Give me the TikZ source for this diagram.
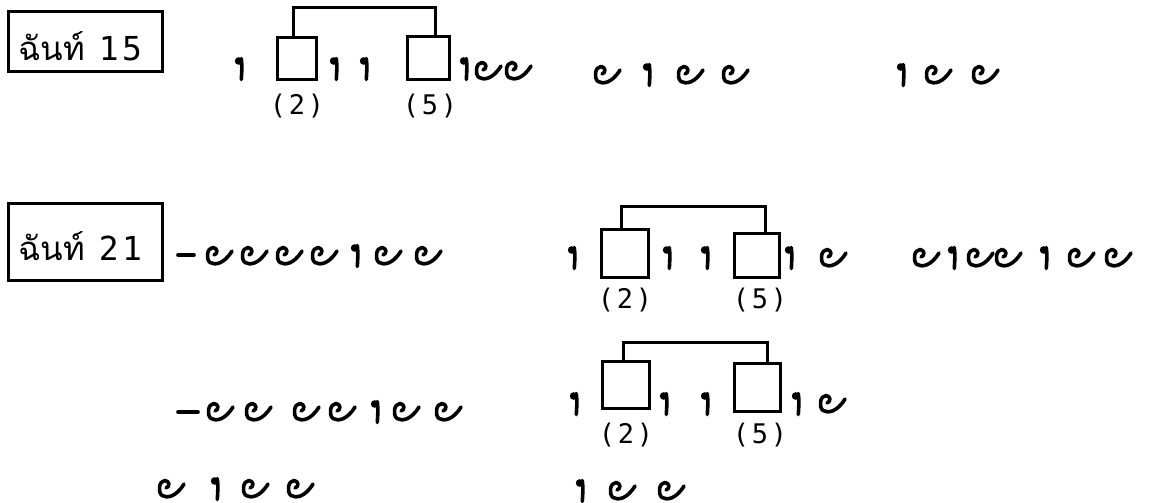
\documentclass[tikz,border=0pt]{standalone}
\usepackage{fontspec}
\newfontfamily\thaifont[Script=Thai]{Loma}
\newfontfamily\numfont[LetterSpace=10]{DejaVu Sans Mono}
\usetikzlibrary{calc}
\tikzset{
  glyph/.style={line width=3.6pt, line cap=round, line join=round},
  pics/guru/.style={code={\draw[glyph] (-5,-9) .. controls (-1,-10) and (-1,-16) .. (-6,-16.5) .. controls (-12,-16.5) and (-13.5,-5) .. (-9,-1.5) .. controls (-4,1.5) and (5,0) .. (13,-13);}},
  pics/lahu/.style={code={\fill (-1.4,-17) circle (3.8); \draw[glyph] (1.3,-19.5) .. controls (2.3,-12) and (1.7,-5) .. (1.3,1.5);}},
  sqbox/.style={draw, line width=3pt, inner sep=0pt},
  lblbox/.style={draw, line width=3pt, inner sep=0pt},
  brk/.style={line width=3pt},
  dashglyph/.style={line width=3.6pt, line cap=round},
  lbl/.style={inner sep=0pt, font=\thaifont\fontsize{33}{38}\selectfont},
  num/.style={inner sep=0pt, font=\numfont\fontsize{27}{31}\selectfont}
}
\begin{document}
\begin{tikzpicture}[x=1pt,y=-1pt]
\useasboundingbox (0,0) rectangle (1149,503);
\fill[white] (0,0) rectangle (1149,503);
% ---------- row 1 : chan 15
\node[lblbox, minimum width=154pt, minimum height=60pt] (k15box) at (85,42) {};
\node[lbl, anchor=base west] (k15) at (18,61) {ฉันท์\hspace{14pt}{\numfont 15}};
\pic at (240,78) {lahu};
\node[sqbox, minimum width=39pt, minimum height=42pt] (a2) at (296.5,59) {};
\pic at (335,78) {lahu};
\pic at (365,78) {lahu};
\node[sqbox, minimum width=42pt, minimum height=43pt] (a5) at (428,58.5) {};
\pic at (465,78) {lahu};
\pic at (488,79) {guru};
\pic at (518,79) {guru};
\pic at (607,83) {guru};
\pic at (648,84) {lahu};
\pic at (690,83) {guru};
\pic at (735,83) {guru};
\pic at (902,84) {lahu};
\pic at (938,83) {guru};
\pic at (985,83) {guru};
\coordinate (t1) at (293,8);
\draw[brk] ([xshift=-3.5pt]a2.north) -- ([xshift=-3.5pt]a2.north |- t1) -| ([xshift=7pt]a5.north);
\node[num] (a2l) at (297,106) {(2)};
\node[num] (a5l) at (430,106) {(5)};
% ---------- row 2 : chan 21
\node[lblbox, minimum width=154pt, minimum height=77pt] (k21box) at (85,241.5) {};
\node[lbl, anchor=base west] (k21) at (18,260) {ฉันท์\hspace{14pt}{\numfont 21}};
\coordinate (d1a) at (178,255);
\coordinate (d1b) at (194,255);
\draw[dashglyph] (d1a) -- (d1b);
\pic at (219,264) {guru};
\pic at (254,264) {guru};
\pic at (289,264) {guru};
\pic at (324,264) {guru};
\pic at (356,265) {lahu};
\pic at (388,264) {guru};
\pic at (428,264) {guru};
\pic at (573,267) {lahu};
\node[sqbox, minimum width=47pt, minimum height=48pt] (b2) at (624.5,253) {};
\pic at (668,267) {lahu};
\pic at (706,267) {lahu};
\node[sqbox, minimum width=45pt, minimum height=44pt] (b5) at (756.5,255) {};
\pic at (790,267) {lahu};
\pic at (833,266) {guru};
\coordinate (t2) at (621,206);
\draw[brk] ([xshift=-3.5pt]b2.north) -- ([xshift=-3.5pt]b2.north |- t2) -| ([xshift=8.5pt]b5.north);
\node[num] (b2l) at (625,300) {(2)};
\node[num] (b5l) at (760,300) {(5)};
\pic at (926,266) {guru};
\pic at (953,267) {lahu};
\pic at (980,266) {guru};
\pic at (1008,266) {guru};
\pic at (1045,267) {lahu};
\pic at (1081,266) {guru};
\pic at (1118,266) {guru};
% ---------- row 3
\coordinate (d2a) at (178,412);
\coordinate (d2b) at (198,412);
\draw[dashglyph] (d2a) -- (d2b);
\pic at (220,420) {guru};
\pic at (258,420) {guru};
\pic at (306,420) {guru};
\pic at (342,420) {guru};
\pic at (376,421) {lahu};
\pic at (406,420) {guru};
\pic at (448,420) {guru};
\pic at (575,413) {lahu};
\node[sqbox, minimum width=47pt, minimum height=47pt] (c2) at (625.5,384.5) {};
\pic at (665,413) {lahu};
\pic at (706,413) {lahu};
\node[sqbox, minimum width=46pt, minimum height=48pt] (c5) at (757,387) {};
\pic at (797,413) {lahu};
\pic at (832,412) {guru};
\coordinate (t3) at (623,342);
\draw[brk] ([xshift=-2.5pt]c2.north) -- ([xshift=-2.5pt]c2.north |- t3) -| ([xshift=10pt]c5.north);
\node[num] (c2l) at (626,435) {(2)};
\node[num] (c5l) at (760,435) {(5)};
% ---------- row 4
\pic at (171,497) {guru};
\pic at (216,498) {lahu};
\pic at (255,497) {guru};
\pic at (300,497) {guru};
\pic at (581,500) {lahu};
\pic at (622,499) {guru};
\pic at (671,499) {guru};
\end{tikzpicture}
\end{document}
